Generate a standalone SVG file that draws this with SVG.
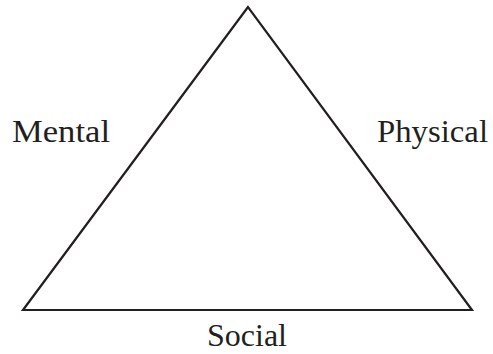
<svg xmlns="http://www.w3.org/2000/svg" width="493" height="354" viewBox="0 0 493 354">
<style>
.lbl{font-family:"Liberation Serif","Times New Roman",serif;font-size:31px;fill:#231f20}
.edge{fill:none;stroke:#231f20;stroke-width:2.2;stroke-linejoin:miter}
</style>
<rect width="493" height="354" fill="#ffffff"/>
<g id="connectors">
<polygon class="edge" points="248,7 23,310 472,310"/>
</g>
<g id="mental"><text class="lbl" x="12" y="142" textLength="98" lengthAdjust="spacingAndGlyphs">Mental</text></g>
<g id="physical"><text class="lbl" x="377" y="142" textLength="111" lengthAdjust="spacingAndGlyphs">Physical</text></g>
<g id="social"><text class="lbl" x="207" y="346" textLength="80" lengthAdjust="spacingAndGlyphs">Social</text></g>
</svg>
